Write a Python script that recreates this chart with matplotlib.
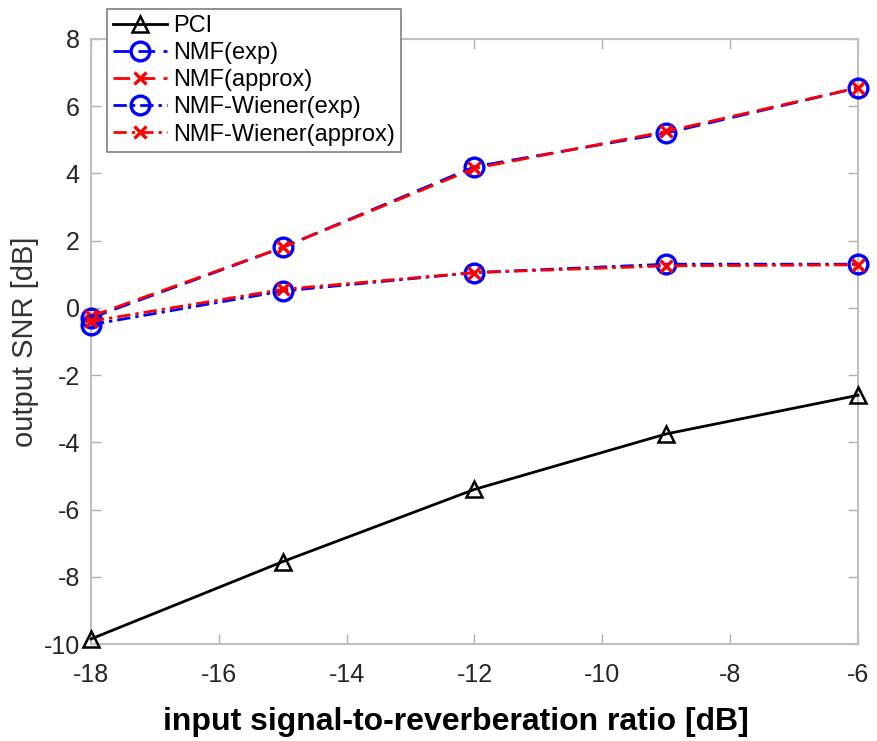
import numpy as np
import matplotlib.pyplot as plt

# input SRR [dB]
srr = [-18, -15, -12, -9, -6]

pci = [-9.85, -7.55, -5.4, -3.75, -2.6]
nmf_exp = [-0.3, 1.8, 4.2, 5.2, 6.55]
nmf_approx = [-0.25, 1.8, 4.15, 5.25, 6.55]
wiener_exp = [-0.5, 0.5, 1.05, 1.3, 1.3]
wiener_approx = [-0.4, 0.55, 1.05, 1.25, 1.28]

xticks = [-18, -16, -14, -12, -10, -8, -6]
yticks = [-10, -8, -6, -4, -2, 0, 2, 4, 6, 8]

plt.rcParams['font.family'] = ['Liberation Sans', 'DejaVu Sans']
plt.rcParams['axes.unicode_minus'] = False

fig = plt.figure(figsize=(8.78, 7.41), dpi=100)
ax = fig.add_axes([0.1036, 0.1309, 0.8736, 0.8165])

dash = (6, 3)
dashdot = (4.8, 1.8, 1.2, 1.8)

ax.plot(srr, pci, '-', color='black', lw=2, marker='^', ms=12, mfc='none', mew=1.8,
        label='PCI', clip_on=False, zorder=3)
ax.plot(srr, nmf_exp, color='blue', lw=2, dashes=dash, marker='o', ms=13.5, mfc='none', mew=2.4,
        label='NMF(exp)', clip_on=False, zorder=3)
ax.plot(srr, nmf_approx, color='red', lw=2, dashes=dash, marker='x', ms=9, mew=2.4,
        label='NMF(approx)', clip_on=False, zorder=3)
ax.plot(srr, wiener_exp, color='blue', lw=2, dashes=dashdot, marker='o', ms=13.5, mfc='none', mew=2.4,
        label='NMF-Wiener(exp)', clip_on=False, zorder=3)
ax.plot(srr, wiener_approx, color='red', lw=2, dashes=dashdot, marker='x', ms=9, mew=2.4,
        label='NMF-Wiener(approx)', clip_on=False, zorder=3)

ax.set_xlim(-18, -6)
ax.set_ylim(-10, 8)
ax.set_xticks(xticks)
ax.set_yticks(yticks)
ax.tick_params(direction='in', top=True, right=True, length=7, width=1, colors='#b0b0b0',
               labelcolor='#262626', labelsize=18)
ax.tick_params(axis='x', pad=14)
ax.tick_params(axis='y', pad=8)
for s in ax.spines.values():
    s.set_color('#c0c0c0')
    s.set_linewidth(1.5)

ax.set_ylabel('output SNR [dB]', fontsize=21, color='#333333', labelpad=3)
ax.set_xlabel('input signal-to-reverberation ratio [dB]', fontsize=23, fontweight='bold',
              color='black', labelpad=14)
ax.xaxis.label.set_x(0.476)

leg = fig.legend(loc='upper left', bbox_to_anchor=(0.1219, 0.9879), borderaxespad=0,
                 fontsize=17, frameon=True, fancybox=False, framealpha=1, edgecolor='#808080',
                 handlelength=2.3, handletextpad=0.25, labelspacing=0.22, borderpad=0.25)
leg.get_frame().set_linewidth(1.2)

fig.savefig('out.png', dpi=100)
